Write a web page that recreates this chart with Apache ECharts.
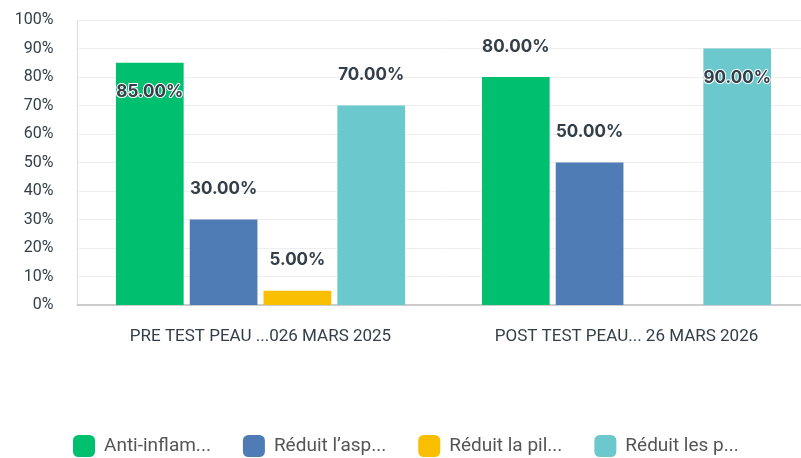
<!DOCTYPE html>
<html>
<head>
<meta charset="utf-8">
<script src="https://cdn.jsdelivr.net/npm/echarts@6/dist/echarts.min.js"></script>
<style>
  html, body { margin: 0; padding: 0; background: #fff; overflow: hidden; }
  #chart { width: 810px; height: 458px; }
</style>
</head>
<body>
<div id="chart"></div>
<script>
// catégories et séries
const categories = ['PRE TEST PEAU ...026 MARS 2025', 'POST TEST PEAU... 26 MARS 2026']
const seriesNames = ['Anti-inflam...', 'Réduit l\u2019asp...', 'Réduit la pil...', 'Réduit les p...']
const antiInflam = [85, 80]
const reduitAsp = [30, 50]
const reduitPil = [5, null]
const reduitLesP = [70, 90]
const colors = ['#00bf6f', '#507cb6', '#f9be00', '#6bc8cd']

const textColor = '#333e48'
const fontFamily = 'Inter, "Open Sans", sans-serif'

// étiquette au-dessus de la barre, ou dedans si la barre est très haute
const makeData = (values) => values.map(v => {
  if (v == null) return null
  if (v > 80) {
    return {
      value: v,
      label: { position: 'insideTop', distance: 21, textBorderColor: '#fff', textBorderWidth: 2 }
    }
  }
  return v
})

const allValues = [antiInflam, reduitAsp, reduitPil, reduitLesP]

const chart = echarts.init(document.getElementById('chart'))

const option = {
  animation: false,
  color: colors,
  grid: {
    left: 77.5,
    right: 0.5,
    top: 20,
    bottom: 153
  },
  legend: {
    bottom: 1,
    left: 73,
    padding: 0,
    icon: 'roundRect',
    itemWidth: 22,
    itemHeight: 22,
    itemGap: 32,
    textStyle: {
      color: '#555',
      fontSize: 19,
      fontFamily: 'Roboto, sans-serif',
      padding: [0, 0, 0, 4]
    },
    data: seriesNames
  },
  xAxis: {
    type: 'category',
    data: categories,
    axisTick: { show: false },
    axisLine: { lineStyle: { color: '#cccccc', width: 2 } },
    axisLabel: {
      color: textColor,
      fontSize: 17,
      fontFamily: 'Roboto, sans-serif',
      margin: 23
    }
  },
  yAxis: {
    type: 'value',
    min: 0,
    max: 100,
    interval: 10,
    axisLine: { show: true, lineStyle: { color: '#dddddd' } },
    axisTick: { show: false },
    splitLine: { lineStyle: { color: '#eeeeee' } },
    axisLabel: {
      formatter: '{value}%',
      color: textColor,
      fontSize: 16,
      fontFamily: 'Roboto, sans-serif',
      margin: 24
    }
  },
  series: seriesNames.map((name, i) => ({
    name: name,
    type: 'bar',
    data: makeData(allValues[i]),
    barGap: '9%',
    barCategoryGap: '21%',
    label: {
      show: true,
      position: 'top',
      distance: 22,
      color: textColor,
      fontSize: 17,
      fontWeight: 'bold',
      fontFamily: fontFamily,
      formatter: p => p.value.toFixed(2) + '%'
    }
  }))
}

chart.setOption(option)
</script>
</body>
</html>
